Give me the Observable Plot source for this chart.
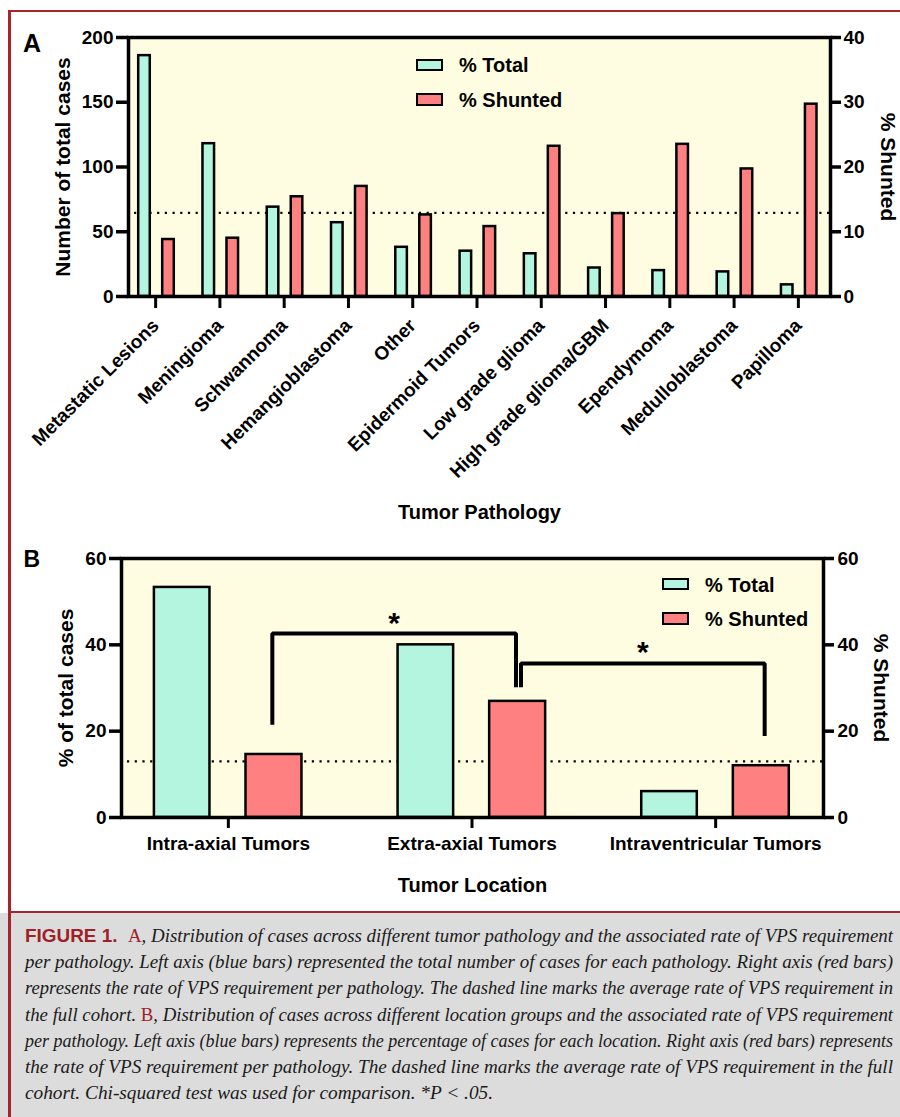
<!DOCTYPE html>
<html><head><meta charset="utf-8">
<script src="https://cdn.jsdelivr.net/npm/d3@7"></script>
<script src="https://cdn.jsdelivr.net/npm/@observablehq/plot@0.6"></script>
<style>
body{margin:0;background:#fff;}
#page{position:relative;width:900px;height:1117px;overflow:hidden;background:#fff;font-family:"Liberation Sans",Arial,sans-serif;}
#page svg{position:absolute;left:0;}
.leg{position:absolute;font-size:20px;font-weight:bold;line-height:20px;white-space:nowrap;color:#000;z-index:3}
.sw{position:absolute;box-sizing:border-box;border:2.5px solid #000;z-index:3}
.bd{position:absolute;background:#a8242c;z-index:5}
</style></head>
<body><div id="page"></div>
<script>
// ---------- Panel A data ----------
const pathologies = ["Metastatic Lesions","Meningioma","Schwannoma","Hemangioblastoma","Other","Epidermoid Tumors","Low grade glioma","High grade glioma/GBM","Ependymoma","Medulloblastoma","Papilloma"];
const totalCases = [186,118,69,57,38,35,33,22,20,19,9];
const shuntedA = [8.8,9.0,15.4,17.0,12.6,10.8,23.2,12.8,23.5,19.7,29.7];
const leftTicksA = [0,50,100,150,200];
const rightTicksA = [0,10,20,30,40];
const averageA = [12.9];

// ---------- Panel B data ----------
const locations = ["Intra-axial Tumors","Extra-axial Tumors","Intraventricular Tumors"];
const percentTotal = [53.3,40.0,6.0];
const shuntedB = [14.6,26.9,12.0];
const ticksB = [0,20,40,60];
const averageB = [13.0];
const brackets = [
  {from:"Intra-axial Tumors", to:"Extra-axial Tumors", yFrom:21.5, yTop:42.6, yTo:30.2, label:"*"},
  {from:"Extra-axial Tumors", to:"Intraventricular Tumors", yFrom:30.2, yTop:35.7, yTo:18.9, label:"*"}
];
const seriesNames = ["% Total","% Shunted"];

const captionLines = [
  [["fig","FIGURE 1.\u00a0\u00a0"],["red","A"],["it",", Distribution of cases across different tumor pathology and the associated rate of VPS requirement"]],
  [["it","per pathology. Left axis (blue bars) represented the total number of cases for each pathology. Right axis (red bars)"]],
  [["it","represents the rate of VPS requirement per pathology. The dashed line marks the average rate of VPS requirement in"]],
  [["it","the full cohort. "],["red","B"],["it",", Distribution of cases across different location groups and the associated rate of VPS requirement"]],
  [["it","per pathology. Left axis (blue bars) represents the percentage of cases for each location. Right axis (red bars) represents"]],
  [["it","the rate of VPS requirement per pathology. The dashed line marks the average rate of VPS requirement in the full"]],
  [["it","cohort. Chi-squared test was used for comparison. *P < .05."]]
];

// ---------- styles ----------
const FONT = '"Liberation Sans", Arial, Helvetica, sans-serif';
const TEAL = "#b3f5df", RED = "#ff8080", CREAM = "#fffde1";
const page = document.getElementById("page");

// ---------- Panel A ----------
const dataA = pathologies.map((name,i)=>({name, total: totalCases[i], shunted: shuntedA[i]}));
const kA = 200/40; // right axis (0-40 %) mapped onto left axis (0-200)
const plotA = Plot.plot({
  width: 900, height: 530,
  marginLeft: 128, marginRight: 70, marginTop: 37, marginBottom: 234,
  style: {fontFamily: FONT, background: "transparent", overflow: "visible"},
  x: {type: "band", domain: pathologies, range: [123, 830], padding: 0, round: false},
  y: {domain: [0, 200]},
  marks: [
    Plot.frame({fill: CREAM, stroke: "none"}),
    Plot.ruleY(averageA, {y: d => d*kA, stroke: "#000", strokeWidth: 2.2, strokeDasharray: "2.2,5.5", insetLeft: 6}),
    Plot.barY(dataA, {x: "name", y: "total", fill: TEAL, stroke: "#000", strokeWidth: 2.5, insetLeft: 15.2, insetRight: 37.5}),
    Plot.barY(dataA, {x: "name", y: d => d.shunted*kA, fill: RED, stroke: "#000", strokeWidth: 2.5, insetLeft: 39.2, insetRight: 13.5}),
    Plot.frame({stroke: "#000", strokeWidth: 3.5}),
    Plot.axisY(leftTicksA, {anchor: "left", tickSize: 12, tickPadding: 3, strokeWidth: 3.5, fontSize: 19, fontWeight: "bold", label: null}),
    Plot.axisY(rightTicksA.map(v => v*kA), {anchor: "right", tickSize: 10, tickPadding: 3, strokeWidth: 3.5, fontSize: 19, fontWeight: "bold", tickFormat: d => d/kA, label: null}),
    Plot.axisX({anchor: "bottom", tickSize: 12, tickPadding: 14, tickRotate: -45, strokeWidth: 3, fontSize: 19, fontWeight: "bold", label: null}),
    Plot.text(["Number of total cases"], {text: d => d, frameAnchor: "left", rotate: -90, dx: -58.5, lineAnchor: "bottom", textAnchor: "middle", fontSize: 21, fontWeight: "bold"}),
    Plot.text(["% Shunted"], {text: d => d, frameAnchor: "right", rotate: 90, dx: 50.5, lineAnchor: "bottom", textAnchor: "middle", fontSize: 21, fontWeight: "bold"}),
    Plot.text(["Tumor Pathology"], {text: d => d, frameAnchor: "bottom", dy: 222, lineAnchor: "bottom", textAnchor: "middle", fontSize: 20, fontWeight: "bold"}),
    Plot.text(["A"], {text: d => d, frameAnchor: "top-left", dx: -105.5, dy: 14, lineAnchor: "bottom", textAnchor: "start", fontSize: 25, fontWeight: "bold"})
  ]
});
plotA.style.top = "0px";
page.appendChild(plotA);

// ---------- Panel B ----------
const dataB = locations.map((name,i)=>({name, total: percentTotal[i], shunted: shuntedB[i]}));
const kB = 60/60;
const bracketPath = b => [{x:b.from,y:b.yFrom},{x:b.from,y:b.yTop},{x:b.to,y:b.yTop},{x:b.to,y:b.yTo}];
const halfBand = (837-106)/3/2;
const plotB = Plot.plot({
  width: 900, height: 380,
  marginLeft: 121, marginRight: 77, marginTop: 28, marginBottom: 93,
  style: {fontFamily: FONT, background: "transparent", overflow: "visible"},
  x: {type: "band", domain: locations, range: [106, 837], padding: 0, round: false},
  y: {domain: [0, 60]},
  marks: [
    Plot.frame({fill: CREAM, stroke: "none"}),
    Plot.ruleY(averageB, {y: d => d*kB, stroke: "#000", strokeWidth: 2.2, strokeDasharray: "2.2,5.5", insetLeft: 6}),
    Plot.barY(dataB, {x: "name", y: "total", fill: TEAL, stroke: "#000", strokeWidth: 2.5, insetLeft: 47.9, insetRight: 140.2}),
    Plot.barY(dataB, {x: "name", y: d => d.shunted*kB, fill: RED, stroke: "#000", strokeWidth: 2.5, insetLeft: 139.5, insetRight: 48.2}),
    Plot.line(bracketPath(brackets[0]), {x: "x", y: "y", stroke: "#000", strokeWidth: 4, dx: 44, strokeLinejoin: "miter", strokeLinecap: "butt"}),
    Plot.line(bracketPath(brackets[1]), {x: "x", y: "y", stroke: "#000", strokeWidth: 4, dx: 49, strokeLinejoin: "miter", strokeLinecap: "butt"}),
    Plot.text([brackets[0]], {x: "from", y: "yTop", text: "label", dx: 44 + halfBand, dy: -1, lineAnchor: "bottom", textAnchor: "middle", fontSize: 30, fontWeight: "bold"}),
    Plot.text([brackets[1]], {x: "from", y: "yTop", text: "label", dx: 49 + halfBand, dy: -1, lineAnchor: "bottom", textAnchor: "middle", fontSize: 30, fontWeight: "bold"}),
    Plot.frame({stroke: "#000", strokeWidth: 3.5}),
    Plot.axisY(ticksB, {anchor: "left", tickSize: 12, tickPadding: 3, strokeWidth: 3.5, fontSize: 19, fontWeight: "bold", label: null}),
    Plot.axisY(ticksB.map(v => v*kB), {anchor: "right", tickSize: 10, tickPadding: 4, strokeWidth: 3.5, fontSize: 19, fontWeight: "bold", tickFormat: d => d/kB, label: null}),
    Plot.axisX({anchor: "bottom", tickSize: 11, tickPadding: 8, strokeWidth: 3, fontSize: 19, fontWeight: "bold", label: null}),
    Plot.text(["% of total cases"], {text: d => d, frameAnchor: "left", rotate: -90, dx: -48.3, lineAnchor: "bottom", textAnchor: "middle", fontSize: 21, fontWeight: "bold"}),
    Plot.text(["% Shunted"], {text: d => d, frameAnchor: "right", rotate: 90, dx: 50, lineAnchor: "bottom", textAnchor: "middle", fontSize: 21, fontWeight: "bold"}),
    Plot.text(["Tumor Location"], {text: d => d, frameAnchor: "bottom", dy: 74.7, lineAnchor: "bottom", textAnchor: "middle", fontSize: 20, fontWeight: "bold"}),
    Plot.text(["B"], {text: d => d, frameAnchor: "top-left", dx: -98, dy: 8, lineAnchor: "bottom", textAnchor: "start", fontSize: 23, fontWeight: "bold"})
  ]
});
plotB.style.top = "530px";
page.appendChild(plotB);

// ---------- Legends ----------
function addLegend(swLeft, txtLeft, rows){
  rows.forEach((r,i)=>{
    const sw = document.createElement("div");
    sw.className = "sw";
    Object.assign(sw.style, {left: swLeft+"px", top: r.swTop+"px", width: r.w+"px", height: r.h+"px", background: i===0?TEAL:RED});
    page.appendChild(sw);
    const t = document.createElement("div");
    t.className = "leg";
    t.textContent = seriesNames[i];
    Object.assign(t.style, {left: txtLeft+"px", top: (r.base-16.9)+"px"});
    page.appendChild(t);
  });
}
addLegend(416, 459, [{swTop:58.5,w:27,h:12.5,base:72.3},{swTop:93,w:27,h:13,base:107.3}]);
addLegend(662, 705, [{swTop:577.5,w:26.5,h:12.5,base:591.7},{swTop:612,w:26.5,h:12.5,base:626}]);

// ---------- Caption ----------
const cap = d3.create("svg").attr("width", 900).attr("height", 204).style("top", "913px");
cap.append("rect").attr("width", 900).attr("height", 204).attr("fill", "#dcdcdc");
const styles = {
  fig: {family: '"Liberation Sans Narrow","Liberation Sans",Arial,sans-serif', weight: "bold", styleF: "normal", fill: "#9e1f27"},
  red: {family: '"Liberation Serif","Times New Roman",serif', weight: "normal", styleF: "normal", fill: "#9e1f27"},
  it: {family: '"Liberation Serif","Times New Roman",serif', weight: "normal", styleF: "italic", fill: "#1a1a1a"}
};
captionLines.forEach((line, i) => {
  const t = cap.append("text").attr("x", 25).attr("y", 29 + i*26.2).attr("font-size", 18);
  t.attr("textLength", i < 6 ? 868 : 468).attr("lengthAdjust", "spacingAndGlyphs");
  line.forEach(([k, s]) => {
    const st = styles[k];
    t.append("tspan").attr("font-family", st.family).attr("font-weight", st.weight)
      .attr("font-style", st.styleF).attr("fill", st.fill).text(s);
  });
});
page.appendChild(cap.node());

// ---------- Borders ----------
[["8px","10px","2.5px","1107px"],["8px","10px","892px","2px"],["8px","911px","892px","2px"]].forEach(([l,t,w,h])=>{
  const d = document.createElement("div"); d.className = "bd";
  Object.assign(d.style, {left:l, top:t, width:w, height:h}); page.appendChild(d);
});
</script>
</body></html>
